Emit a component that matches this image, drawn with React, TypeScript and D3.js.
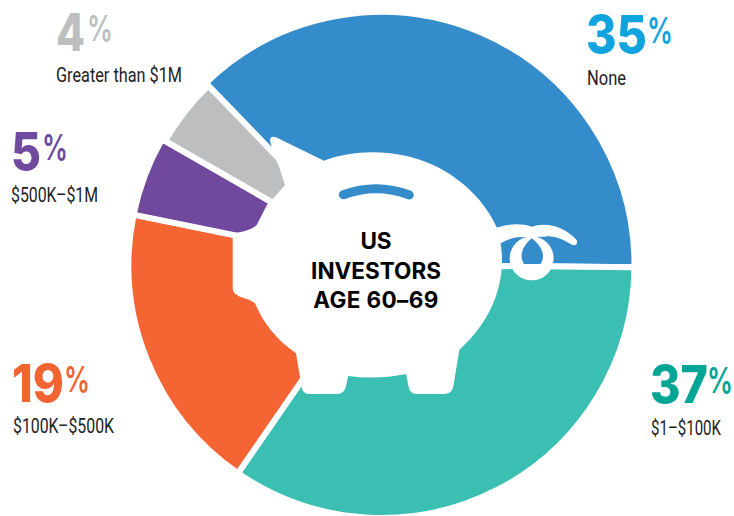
import React from "react";
import * as d3 from "d3";

const categories = ["None", "$1–$100K", "$100K–$500K", "$500K–$1M", "Greater than $1M"];
const labelValues = [35, 37, 19, 5, 4];
// Slice sizes as drawn in the picture (they differ slightly from the printed labels)
const drawnShares = [37.4, 34.5, 18.6, 5.1, 4.5];
const sliceColors = ["#358ccb", "#3bbfb3", "#f46533", "#70489d", "#bcbec0"];
const numberColors = ["#11a3de", "#00a596", "#f26430", "#6f4a9f", "#bcbec0"];
const sliceRadii = [253, 253, 253, 253, 249.5];
const labelX = [586, 650, 12, 11, 56];
const numberY = [53, 403, 402, 170, 51];
const numberW = [61, 58, 52, 30, 29];
const percentX = [647, 707, 64, 42, 87];
const captionX = [587, 651, 13, 11, 56];
const captionY = [85, 435, 433, 202, 82];
const captionW = [39, 70, 101, 87, 126];
const centerLines = ["US", "INVESTORS", "AGE 60–69"];
const centerY = [249, 279, 308];

const W = 734, H = 516, CX = 381.5, CY = 265;
const startDeg = -44;

const P = (x: number, y: number) => `${(220 + x / 3).toFixed(1)} ${(120 + y / 3).toFixed(1)}`;

const pigBody = [
  `M${P(150, 62)}`, `Q${P(150, 45)} ${P(168, 52)}`, `L${P(312, 122)}`,
  `C${P(400, 88)} ${P(530, 85)} ${P(640, 135)}`,
  `C${P(730, 178)} ${P(795, 245)} ${P(830, 322)}`,
  `C${P(860, 410)} ${P(860, 560)} ${P(718, 690)}`,
  `L${P(700, 800)}`, `Q${P(695, 822)} ${P(672, 822)}`, `L${P(590, 822)}`, `Q${P(570, 822)} ${P(566, 802)}`,
  `L${P(558, 762)}`, `Q${P(470, 780)} ${P(385, 768)}`,
  `L${P(377, 802)}`, `Q${P(372, 822)} ${P(352, 822)}`, `L${P(268, 822)}`, `Q${P(248, 822)} ${P(245, 802)}`,
  `L${P(228, 700)}`, `C${P(170, 660)} ${P(130, 610)} ${P(105, 550)}`,
  `Q${P(95, 540)} ${P(60, 530)}`, `Q${P(38, 522)} ${P(38, 505)}`, `L${P(38, 352)}`,
  `L${P(50, 338)}`, `Q${P(95, 330)} ${P(110, 315)}`, `L${P(142, 253)}`, `L${P(155, 240)}`,
  `L${P(195, 195)}`, `L${P(178, 142)}`, `L${P(160, 100)}`, "Z",
].join(" ");

const tail = [
  `M${P(825, 325)}`, `C${P(865, 312)} ${P(900, 308)} ${P(935, 320)}`,
  `C${P(975, 306)} ${P(1030, 315)} ${P(1070, 360)}`, `Q${P(1075, 380)} ${P(1055, 374)}`,
  `C${P(1030, 358)} ${P(1000, 345)} ${P(975, 350)}`, `L${P(890, 352)}`,
  `C${P(870, 356)} ${P(855, 362)} ${P(838, 372)}`, "Z",
].join(" ");

const tailHole = `M${P(935, 355)} C${P(900, 385)} ${P(900, 412)} ${P(912, 432)} L${P(962, 432)} C${P(976, 410)} ${P(970, 382)} ${P(935, 355)} Z`;
const slot = `M${P(370, 224)} Q${P(470, 188)} ${P(568, 225)}`;

export default function App() {
  const pie = d3.pie<number>().sort(null)
    .startAngle((startDeg * Math.PI) / 180)
    .endAngle(((startDeg + 360) * Math.PI) / 180);
  const arc = d3.arc<d3.PieArcDatum<number>>().innerRadius(0);
  const slices = pie(drawnShares);
  return (
    <svg width={W} height={H} viewBox={`0 0 ${W} ${H}`}
      style={{ position: "absolute", left: 0, top: 0, display: "block", background: "#fff" }}>
      <g transform={`translate(${CX},${CY})`}>
        {slices.map((s, i) => (
          <path key={i} d={arc.outerRadius(sliceRadii[i])(s) || ""} fill={sliceColors[i]} stroke="#fff" strokeWidth={6} strokeLinejoin="miter" />
        ))}
      </g>
      <path d={pigBody} fill="#fff" />
      <path d={tail} fill="#fff" />
      <circle cx={220 + 935 / 3} cy={120 + 415 / 3} r={22} fill="#fff" />
      <path d={tailHole} fill={sliceColors[0]} />
      <path d={slot} fill="none" stroke={sliceColors[0]} strokeWidth={9} strokeLinecap="round" />
      <g fontFamily="Inter, 'Noto Sans', sans-serif" fontWeight={700} fontSize={22.5} fill="#000" textAnchor="middle">
        {centerLines.map((t, i) => (
          <text key={t} x={376} y={centerY[i]} letterSpacing={i === 2 ? 0.4 : 0}>{t}</text>
        ))}
      </g>
      {categories.map((c, i) => (
        <g key={c}>
          <text x={labelX[i]} y={numberY[i]} fontFamily="Inter, sans-serif" fontWeight={800} fontSize={52}
            fill={numberColors[i]} textLength={numberW[i]} lengthAdjust="spacingAndGlyphs">
            {String(labelValues[i])}
          </text>
          <text x={percentX[i]} y={numberY[i] - 10} fontFamily="Inter, sans-serif" fontWeight={600} fontSize={36}
            fill={numberColors[i]} textLength={26} lengthAdjust="spacingAndGlyphs">%</text>
          <text x={captionX[i]} y={captionY[i]} fontFamily="'Liberation Sans Narrow', Roboto, sans-serif" fontSize={20} fill="#222"
            textLength={captionW[i]} lengthAdjust="spacingAndGlyphs">{c}</text>
        </g>
      ))}
    </svg>
  );
}
